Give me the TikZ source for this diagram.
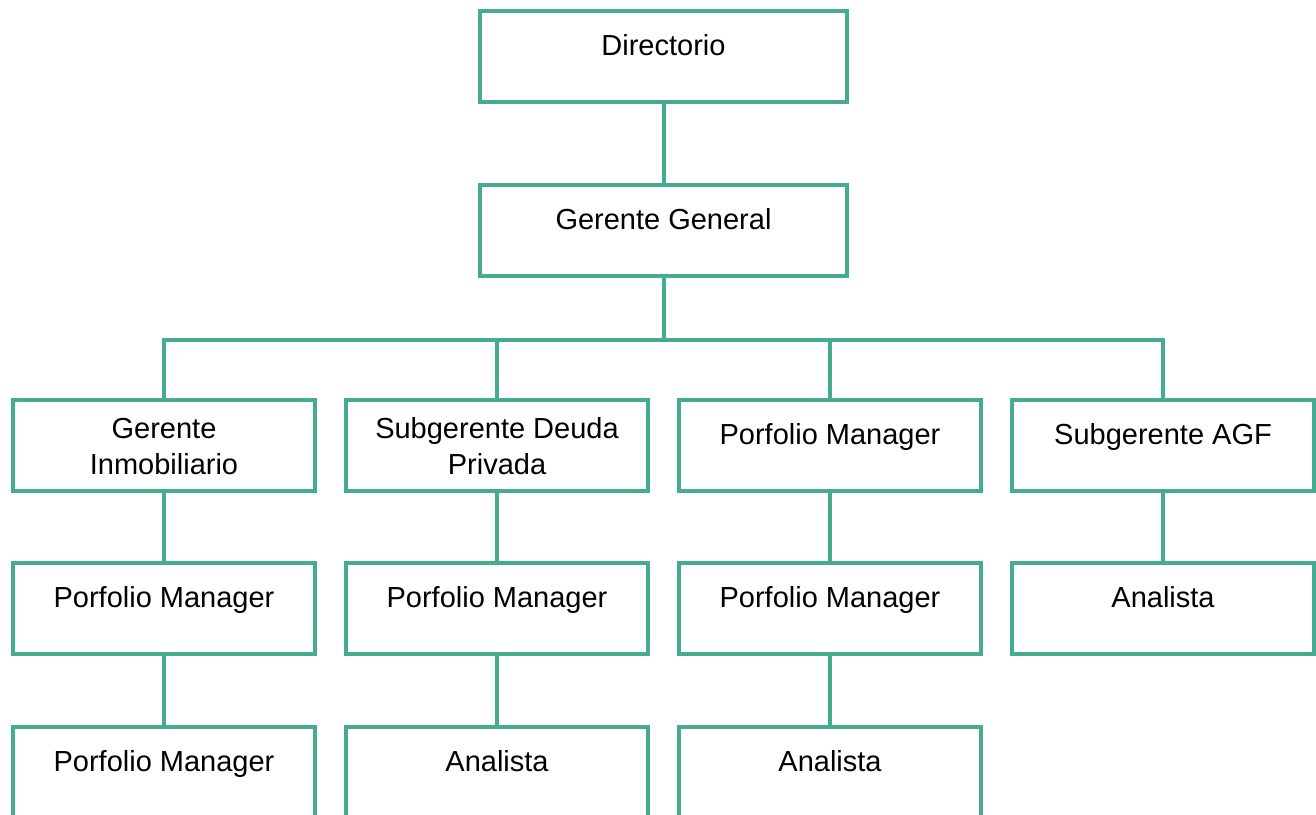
\documentclass[tikz,border=0pt]{standalone}
\usepackage{fontspec}
\setmainfont{Liberation Sans}
\definecolor{orgteal}{RGB}{70,172,145}
\newcommand{\orgfont}{\fontsize{14.5}{18}\selectfont}
\begin{document}
\begin{tikzpicture}
	[
	x=0.5pt, y=0.5pt,
	unit/.style={rectangle,draw=orgteal,line width=2pt,minimum width=151pt,inner xsep=0pt,inner ysep=0pt,text centered,anchor=north,font=\orgfont,text height=22.25pt,text depth=23.25pt},
	twoline/.style={align=center,text height=37.35pt,text depth=8.15pt},
	wide/.style={minimum width=183.5pt},
	edge from parent/.style={draw=orgteal,line width=2pt},
	edge from parent path={(\tikzparentnode.south) -- ++(0,-31pt) -| (\tikzchildnode.north)},
	level 1/.style={level distance=63pt},
	level 2/.style={level distance=83.75pt,sibling distance=166.5pt},
	level 3/.style={level distance=57.75pt},
	level 4/.style={level distance=58.25pt},
	every node/.style={unit},
	]
	\useasboundingbox (0,0) rectangle (1316,-814);
	\node[wide] (dir) at (663.5,-9) {Directorio}
	child {node[wide] (gg) {Gerente General}
		child {node[twoline] (inmo) {Gerente\\Inmobiliario}
			child {node (pminmo) {Porfolio Manager}
				child {node (pminmob) {Porfolio Manager}}
			}
		}
		child {node[twoline] (deuda) {Subgerente Deuda\\Privada}
			child {node (pmdeuda) {Porfolio Manager}
				child {node (andeuda) {Analista}}
			}
		}
		child {node (pm) {Porfolio Manager}
			child {node (pmpm) {Porfolio Manager}
				child {node (anpm) {Analista}}
			}
		}
		child {node (agf) {Subgerente AGF}
			child {node (anagf) {Analista}}
		}
	};
\end{tikzpicture}
\end{document}
